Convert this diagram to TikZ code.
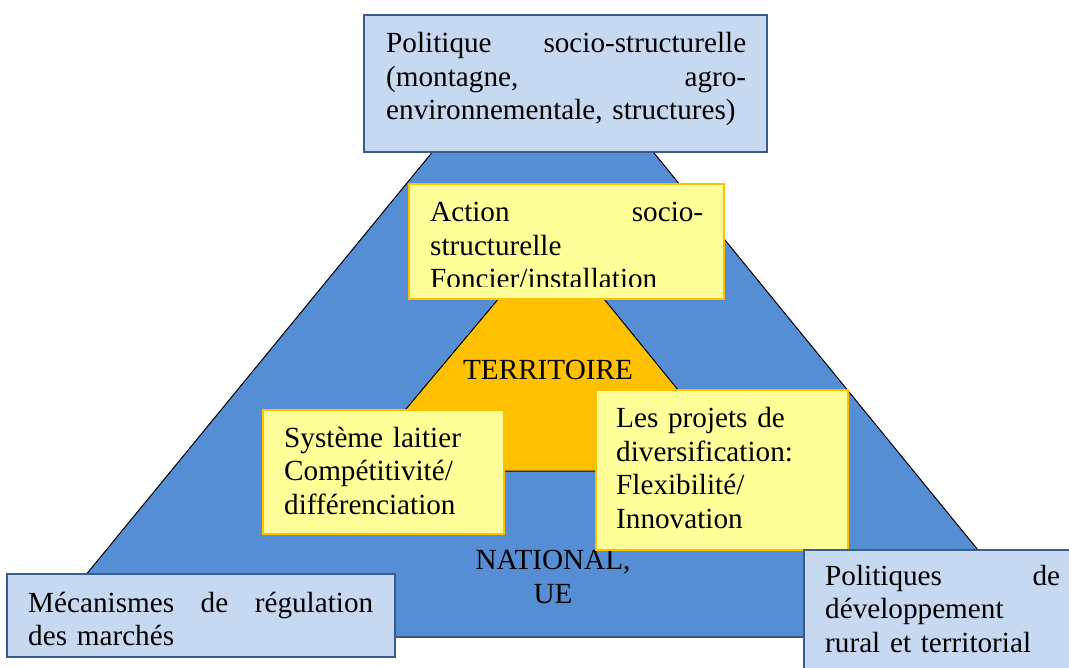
\documentclass[tikz,border=0pt]{standalone}
\usepackage{fontspec}
\setmainfont{Liberation Serif}
\definecolor{triblue}{HTML}{558ED5}
\definecolor{boxblue}{HTML}{C6D9F1}
\definecolor{boxborder}{HTML}{385D8A}
\definecolor{ylw}{HTML}{FFFF99}
\definecolor{org}{HTML}{FFC000}
\begin{document}
\begin{tikzpicture}[x=1pt,y=-1pt,
  bluebox/.style={draw=boxborder, fill=boxblue, line width=1.5pt},
  yellowbox/.style={draw=org, fill=ylw, line width=1.5pt},
  txt/.style={inner sep=0pt, anchor=base west, align=left, font=\fontsize{29.2}{33.5}\selectfont},
  ctxt/.style={inner sep=0pt, anchor=base, align=center, font=\fontsize{29.2}{33.5}\selectfont},
]
\clip (0,0) rectangle (1069,668);
\fill[white] (0,0) rectangle (1069,668);
% outer triangle
\coordinate (oA) at (543,17);
\coordinate (oB) at (35,637);
\coordinate (oC) at (1049,637);
\draw[fill=triblue, line width=1pt] (oA) -- (oB) -- (oC) -- cycle;
% inner triangle
\coordinate (iA) at (552,235);
\coordinate (iB) at (354,471);
\coordinate (iC) at (744,471);
\draw[fill=org, line width=1pt] (iA) -- (iB) -- (iC) -- cycle;
\node[ctxt] (terr) at (548,380) {TERRITOIRE};
\node[ctxt] (nat) at (553,603) {NATIONAL,\\UE};
% top box
\draw[bluebox] (364,15) rectangle (767,152);
\node[txt, text width=360pt] (top) at (386,53) {Politique\hfill socio-structurelle\\(montagne,\hfill agro-\\environnementale, structures)};
% action box
\draw[yellowbox] (409,184) rectangle (724,299);
\begin{scope}
\clip (409,184) rectangle (724,286.5);
\node[txt, text width=273pt] (act) at (430,222) {Action\hfill socio-\\structurelle\\Foncier/installation};
\end{scope}
% systeme box
\draw[yellowbox] (263,410) rectangle (504,534);
\node[txt, text width=215pt] (sys) at (284,447) {Système laitier\\Compétitivité/\\différenciation};
% projets box
\draw[yellowbox] (596,390) rectangle (848,550);
\node[txt, text width=225pt] (proj) at (616,428) {Les projets de\\diversification:\\Flexibilité/\\Innovation};
% bottom left box
\draw[bluebox] (7,574) rectangle (395,657);
\node[txt, text width=345pt] (mec) at (28,612) {Mécanismes\hfill de\hfill régulation\\des marchés};
% bottom right box
\draw[bluebox] (804,550) rectangle (1080,680);
\node[txt, text width=235pt] (pol) at (825,585) {Politiques\hfill de\\développement\\rural et territorial};
\end{tikzpicture}
\end{document}
